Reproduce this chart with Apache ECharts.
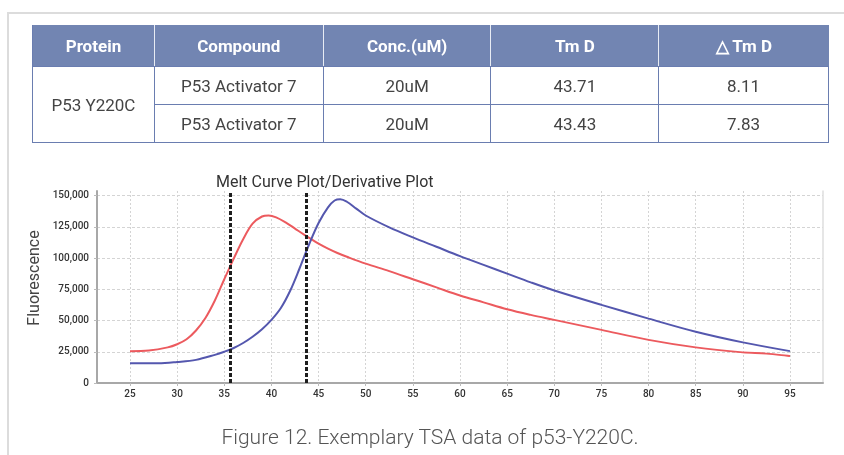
<!DOCTYPE html>
<html>
<head>
<meta charset="utf-8">
<script src="https://cdn.jsdelivr.net/npm/echarts@6/dist/echarts.min.js"></script>
<style>
  html, body { margin: 0; padding: 0; background: #fff; }
  #wrap { position: relative; width: 844px; height: 455px; overflow: hidden; font-family: Roboto, "Noto Sans", sans-serif; }
  #frame { position: absolute; left: 7px; top: 12px; width: 850px; height: 460px; border-left: 2px solid #dcdcdc; border-top: 2px solid #dcdcdc; }
  #main { position: absolute; left: 0; top: 0; width: 844px; height: 455px; }
  table { position: absolute; left: 32px; top: 25px; width: 797px; border-collapse: collapse; font-size: 17px; color: #444; z-index: 2; }
  th { background: #7285b2; color: #fff; font-weight: 700; height: 41px; padding: 0; border-left: 1.5px solid #e8ecf4; border-bottom: 1.5px solid #6a7db0; }
  th:first-child { border-left: 1.5px solid #6a7db0; }
  td { height: 37px; padding: 0; text-align: center; border: 1.5px solid #6a7db0; }
  #caption { position: absolute; left: 0; width: 844px; top: 425px; text-align: center; font-size: 21px; font-weight: 300; color: #555; padding-left: 16px; box-sizing: border-box; }
</style>
</head>
<body>
<div id="wrap">
  <div id="frame"></div>
  <div id="main"></div>
  <table id="tbl"></table>
  <div id="caption">Figure 12. Exemplary TSA data of p53-Y220C.</div>
</div>
<script>
// table contents
var headers = ['Protein', 'Compound', 'Conc.(uM)', 'Tm D', '\u25B3 Tm D']
var protein = 'P53 Y220C'
var compounds = ['P53 Activator 7', 'P53 Activator 7']
var concs = ['20uM', '20uM']
var tmD = ['43.71', '43.43']
var deltaTm = ['8.11', '7.83']
var colWidths = [122, 169, 168, 168, 170]

// melt curves (temperature in C, fluorescence)
var redTemp = [25, 27, 29, 30, 31, 32, 33, 34, 35, 36, 37, 38, 39, 39.7, 40.5, 41.5, 42.5, 43.5, 45, 46, 47, 48, 50, 52.5, 55, 57.5, 60, 62.5, 65, 67.5, 70, 75, 80, 85, 90, 92.5, 95]
var redVal = [25500, 26000, 28500, 31000, 35000, 42000, 52000, 66000, 83000, 99500, 115000, 127500, 133200, 134000, 132500, 128500, 123500, 118500, 111500, 107500, 104000, 101000, 95500, 89500, 83000, 76500, 70000, 64500, 59000, 54500, 50500, 42500, 34500, 28500, 24500, 23500, 21500]
var blueTemp = [25, 28, 30, 32, 34, 35, 36, 37, 38, 39, 40, 41, 42, 43, 44, 45, 46, 46.7, 47.3, 48, 49, 50, 52.5, 55, 57.5, 60, 62.5, 65, 67.5, 70, 75, 80, 85, 90, 95]
var blueVal = [15800, 15800, 16800, 18500, 22500, 25000, 28000, 32000, 37000, 43000, 50500, 60000, 74000, 92000, 111000, 128000, 140500, 146000, 147000, 145000, 139500, 134000, 124500, 116500, 109000, 101500, 94500, 87500, 80500, 74000, 62500, 51500, 41000, 32500, 25500]
var tmLines = [35.6, 43.71]
var xTicks = [25, 30, 35, 40, 45, 50, 55, 60, 65, 70, 75, 80, 85, 90, 95]
var yTicks = [0, 25000, 50000, 75000, 100000, 125000, 150000]

// build the table
var html = '<colgroup>' + colWidths.map(function (w) { return '<col style="width:' + w + 'px">' }).join('') + '</colgroup>'
html += '<tr>' + headers.map(function (h) { return '<th>' + h + '</th>' }).join('') + '</tr>'
for (var i = 0; i < compounds.length; i++) {
  html += '<tr>'
  if (i === 0) html += '<td rowspan="' + compounds.length + '">' + protein + '</td>'
  html += '<td>' + compounds[i] + '</td><td>' + concs[i] + '</td><td>' + tmD[i] + '</td><td>' + deltaTm[i] + '</td></tr>'
}
document.getElementById('tbl').innerHTML = html

function pairs(xs, ys) {
  return xs.map(function (x, i) { return [x, ys[i]] })
}

var myChart = echarts.init(document.getElementById('main'))
var labelFont = { fontFamily: 'Roboto', fontSize: 10, fontWeight: 500, color: '#333' }

var option = {
  animation: false,
  title: {
    text: 'Melt Curve Plot/Derivative Plot',
    left: 216,
    top: 175,
    padding: 0,
    textStyle: { fontFamily: 'Roboto', fontSize: 16, fontWeight: 'normal', color: '#333' }
  },
  graphic: [{
    type: 'text',
    x: 35,
    y: 278,
    rotation: Math.PI / 2,
    style: { text: 'Fluorescence', fontFamily: 'Roboto', fontSize: 16, fill: '#444', textAlign: 'center', textVerticalAlign: 'middle' }
  }],
  grid: { left: 97, right: 21, top: 191, bottom: 72 },
  xAxis: {
    type: 'value',
    min: 21.5,
    max: 98.5,
    axisLine: { lineStyle: { color: '#a8a8a8', width: 2 } },
    axisTick: { show: true, length: 3, customValues: xTicks, lineStyle: { color: '#bbb' } },
    axisLabel: Object.assign({ margin: 6, customValues: xTicks }, labelFont),
    splitLine: { show: true, lineStyle: { color: '#d4d4d4', type: [2, 2], width: 1 } }
  },
  yAxis: [{
    type: 'value',
    min: 0,
    max: 153600,
    axisLine: { show: true, lineStyle: { color: '#a8a8a8', width: 2 } },
    axisTick: { show: true, length: 3, customValues: yTicks, lineStyle: { color: '#bbb' } },
    axisLabel: Object.assign({
      margin: 8,
      customValues: yTicks,
      formatter: function (v) { return v.toLocaleString('en-US') }
    }, labelFont),
    splitLine: { show: true, lineStyle: { color: '#d4d4d4', type: [3, 2], width: 1 } }
  }, {
    type: 'value',
    position: 'right',
    min: 0,
    max: 153600,
    axisLine: { show: true, lineStyle: { color: '#dedede', width: 1.5 } },
    axisTick: { show: false },
    axisLabel: { show: false },
    splitLine: { show: false }
  }],
  series: [
    {
      name: 'Compound A',
      type: 'line',
      data: pairs(redTemp, redVal),
      smooth: 0.35,
      symbol: 'none',
      lineStyle: { color: '#ec5a5e', width: 2 },
      markLine: {
        silent: true,
        symbol: 'none',
        label: { show: false },
        lineStyle: { color: '#1e1e1e', type: [4, 2], width: 3 },
        data: tmLines.map(function (t) { return { xAxis: t } })
      }
    },
    {
      name: 'Compound B',
      type: 'line',
      data: pairs(blueTemp, blueVal),
      smooth: 0.35,
      symbol: 'none',
      lineStyle: { color: '#5457ae', width: 2 }
    }
  ]
}
myChart.setOption(option)
</script>
</body>
</html>
